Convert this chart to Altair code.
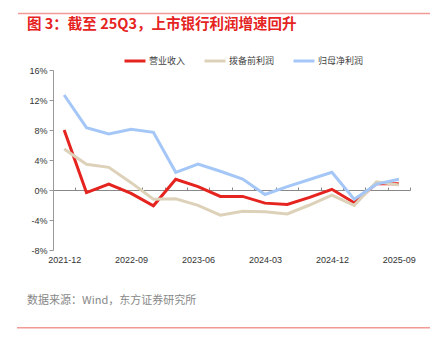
import json
import altair as alt
import pandas as pd

dates = ['2021-12', '2022-03', '2022-06', '2022-09', '2022-12', '2023-03', '2023-06', '2023-09',
         '2023-12', '2024-03', '2024-06', '2024-09', '2024-12', '2025-03', '2025-06', '2025-09']
series_names = ['营业收入', '拨备前利润', '归母净利润']
colors = ['#E5231F', '#DDD2B9', '#A4C7F7']

revenue = [8.0, -0.35, 0.8, -0.45, -2.1, 1.42, 0.45, -0.85, -0.85, -1.75, -1.93, -0.98, 0.09, -1.69, 0.88, 0.82]
ppop = [5.47, 3.42, 3.02, 0.98, -1.24, -1.16, -2.05, -3.35, -2.85, -2.9, -3.2, -2.0, -0.67, -2.05, 1.1, 0.68]
netprofit = [12.67, 8.31, 7.47, 8.09, 7.69, 2.36, 3.47, 2.5, 1.47, -0.6, 0.45, 1.4, 2.36, -1.24, 0.78, 1.44]

tick_label_idx = [0, 3, 6, 9, 12, 15]
boundary_ticks = [i + 0.5 for i in range(16)]
y_ticks = [-8, -4, 0, 4, 8, 12, 16]

title_text = '图 3：截至 25Q3，上市银行利润增速回升'
source_text = '数据来源：Wind，东方证券研究所'

rows = []
for name, vals in zip(series_names, [revenue, ppop, netprofit]):
    for i, v in enumerate(vals):
        rows.append({'idx': i, 'date': dates[i], 'series': name, 'value': v})
df = pd.DataFrame(rows)

CJK = 'Noto Sans CJK SC'
LAT = 'Liberation Sans'

xscale = alt.Scale(domain=[-0.5, 15.5], nice=False, zero=False)
yscale = alt.Scale(domain=[-8, 16], nice=False)

lines = alt.Chart(df).mark_line(strokeWidth=3, strokeJoin='miter').encode(
    x=alt.X('idx:Q', scale=xscale, axis=alt.Axis(
        orient='bottom', values=tick_label_idx, domain=False, ticks=False, grid=False,
        labelExpr=f"{json.dumps(dates)}[datum.value]", labelFont=LAT, labelFontSize=9,
        labelColor='#333333', labelPadding=5, title=None, zindex=0)),
    y=alt.Y('value:Q', scale=yscale, axis=alt.Axis(
        values=y_ticks, labelExpr="datum.value + '%'", grid=False, domainColor='#999999',
        tickColor='#999999', tickSize=4, labelFont=LAT, labelFontSize=9, labelColor='#333333',
        labelPadding=2, title=None, zindex=0)),
    color=alt.Color('series:N', scale=alt.Scale(domain=series_names, range=colors),
                    sort=series_names,
                    legend=alt.Legend(orient='none', legendX=70, legendY=-21, direction='horizontal',
                                      symbolType='stroke', symbolStrokeWidth=3, symbolSize=441,
                                      labelFont=CJK, labelFontSize=9, labelColor='#444444',
                                      labelOffset=2, columnPadding=12, padding=0, title=None)),
    detail='series:N',
    order=alt.Order('idx:Q'),
)

zero_axis = alt.Chart(df).mark_point(opacity=0).encode(
    x=alt.X('idx:Q', scale=xscale, axis=alt.Axis(
        orient='top', offset=-120, values=boundary_ticks, labels=False, grid=False,
        domainColor='#888888', tickColor='#888888', tickSize=3, title=None, zindex=0)),
)

one = alt.Data(values=[{}])
title = alt.Chart(one).mark_text(text=title_text, font=CJK, fontSize=14.5, fontWeight='bold',
                                 color='#E5231F', align='left', baseline='middle').encode(
    x=alt.value(-26), y=alt.value(-45))
source = alt.Chart(one).mark_text(text=source_text, font=CJK, fontSize=11,
                                  color='#888888', align='left', baseline='middle').encode(
    x=alt.value(-26), y=alt.value(231))
top_rule = alt.Chart(one).mark_rule(color='#F29A96', strokeWidth=1.5).encode(
    x=alt.value(-35), x2=alt.value(377), y=alt.value(-56.5))
bottom_rule = alt.Chart(one).mark_rule(color='#F29A96', strokeWidth=1.5).encode(
    x=alt.value(-36), x2=alt.value(377), y=alt.value(257.7))

chart = alt.layer(zero_axis, lines, title, source, top_rule, bottom_rule).resolve_axis(
    x='independent'
).properties(
    width=357, height=180,
    padding={'left': 53, 'top': 70, 'right': 26, 'bottom': 104},
    autosize='none', background='white'
).configure_view(stroke=None)

chart.save('out.html', embed_options={'renderer': 'svg', 'actions': False})
